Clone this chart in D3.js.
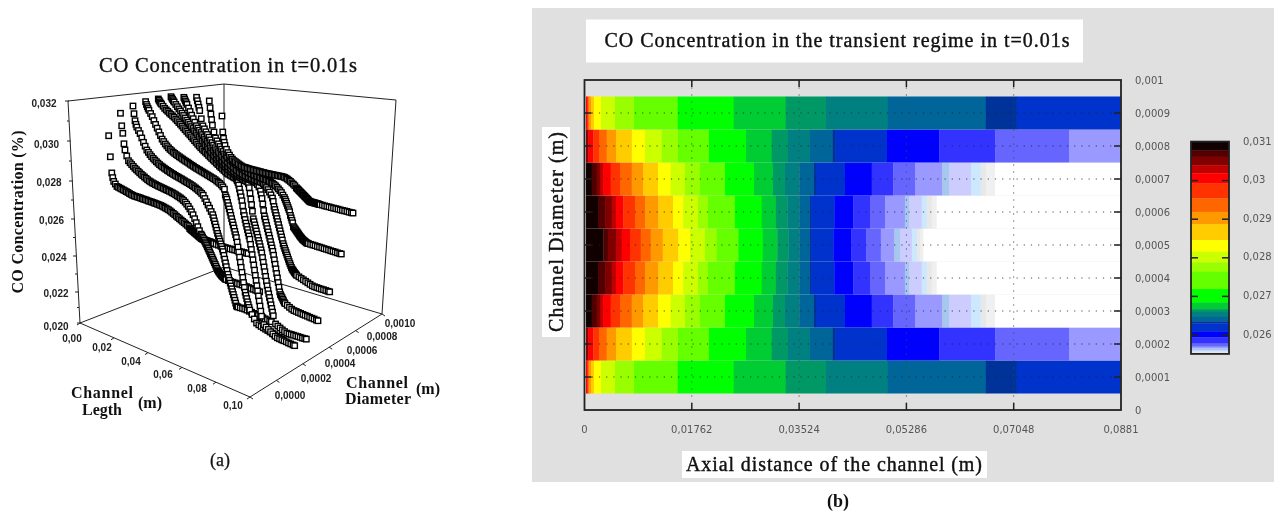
<!DOCTYPE html>
<html><head><meta charset="utf-8">
<script src="https://cdn.jsdelivr.net/npm/d3@7/dist/d3.min.js"></script>
<style>html,body{margin:0;padding:0;background:#fff;overflow:hidden}svg{display:block;filter:blur(.35px)}</style>
</head><body><div id="c"></div>
<script>
// ---------- panel (a): axial positions (m) shared by all curves
const axialLengths = [0,.0005,.001,.0015,.002,
 .003,.004,.005,.006,.007,.008,.009,.010,.011,.012,.013,.014,.015,.016,.017,.018,.019,.020,.021,.022,.023,.024,.025,.026,.027,.028,.029,.030,.031,.032,.033,.034,.035,.036,.037,.038,.039,.040,.041,.042,.043,.044,
 .045,.046,.047,.048,.049,.050,
 .0505,.051,.0515,.052,.0525,.053,.0535,.054,.0545,.055,.0555,.056,.0565,.057,.0575,.058,.0585,.059,.0595,.060,.0605,.061,.0615,.062,.0625,.063,.0635,.064,.0645,.065,.0655,.066,
 .0675,.069,.0705,.072,.0735,.075,.0765,.078,.0795,.081,.0825,.084,.0855,.087,.0881];
const curveDiameters = [.0001,.0002,.0003,.0004,.0005,.0006,.0007,.0008,.0009,.0010];
// CO concentration in units of 1e-5 (%), one list per diameter
const co0001 = [2978,2860,2770,2745,2725, 2713,2702,2700,2698,2696,2694,2692,2690,2688,2685,2683,2681,2680,2680,2680,2680,2680,2679,2679,2679,2679,2678,2678,2678,2678,2677,2677,2676,2676,2675,2674,2672,2670,2668,2666,2663,2659,2655,2651,2646,2642,2638, 2634,2630,2626,2622,2618,2614,2606,2604,2602,2600,2598,2596,2594,2592,2590,2588,2586,2584,2582,2580,2578,2576,2575,2575,2575,2575,2574,2574,2574,2574,2574,2574,2574,2574,2573,2573,2573,2573,2573,2573,2573,2573,2573,2574,2575,2576,2577,2578,2579,2580,2581,2582,2583];
const co0002 = [3096,3025,2983,2924,2890, 2858,2833,2824,2816,2808,2800,2794,2788,2782,2776,2771,2766,2761,2756,2752,2749,2746,2744,2742,2740,2738,2737,2735,2734,2732,2731,2729,2728,2726,2724,2722,2719,2716,2713,2710,2706,2701,2695,2687,2678,2667,2655, 2642,2624,2606,2588,2570,2555,2549,2542,2536,2529,2522,2515,2509,2501,2494,2486,2479,2471,2464,2456,2448,2441,2433,2426,2418,2410,2403,2398,2394,2390,2386,2383,2380,2378,2376,2374,2372,2371,2370,2370,2371,2372,2373,2374,2375,2376,2376,2376,2376,2376,2376,2376,2376];
const co0003 = [3129,3085,3045,3025,3010, 2992,2976,2953,2930,2910,2890,2879,2868,2859,2851,2844,2837,2831,2825,2820,2816,2812,2808,2804,2801,2797,2794,2791,2788,2785,2783,2780,2778,2775,2772,2769,2767,2764,2761,2758,2754,2750,2746,2741,2736,2730,2723, 2708,2693,2678,2664,2649,2635,2620,2605,2590,2575,2560,2545,2532,2520,2508,2496,2484,2472,2460,2442,2424,2406,2388,2370,2352,2337,2324,2311,2298,2285,2272,2259,2246,2233,2220,2207,2205,2205,2206,2208,2209,2209,2208,2208,2207,2207,2206,2205,2205,2204,2204,2203,2203];
const co0004 = [3146,3130,3118,3108,3098, 3081,3064,3043,3022,3002,2982,2963,2944,2932,2920,2911,2902,2895,2889,2883,2878,2873,2869,2865,2861,2857,2853,2849,2846,2842,2838,2834,2831,2827,2824,2821,2818,2815,2812,2809,2806,2803,2800,2797,2794,2791,2788, 2783,2779,2774,2768,2760,2750,2720,2710,2700,2684,2668,2652,2636,2620,2604,2588,2573,2558,2542,2526,2512,2490,2465,2440,2415,2390,2365,2340,2315,2290,2266,2243,2228,2213,2198,2185,2172,2160,2142,2124,2108,2104,2101,2099,2097,2095,2093,2091,2089,2087,2085,2083,2081];
const co0005 = [3153,3145,3137,3130,3125, 3114,3103,3095,3088,3080,3073,3066,3060,3051,3043,3034,3026,3017,3008,2999,2991,2982,2974,2965,2956,2947,2939,2930,2922,2914,2907,2900,2894,2887,2880,2873,2867,2860,2854,2847,2841,2834,2828,2822,2816,2810,2804, 2801,2798,2795,2792,2789,2786,2778,2769,2756,2736,2716,2696,2676,2650,2620,2600,2580,2562,2546,2530,2514,2498,2482,2456,2430,2404,2378,2352,2326,2300,2274,2248,2222,2197,2172,2147,2122,2097,2058,2050,2043,2036,2030,2023,2020,2020,2020,2020,2020,2019,2019,2019,2019];
const co0006 = [3158,3150,3142,3135,3128, 3115,3103,3091,3080,3068,3056,3043,3031,3020,3009,2998,2988,2977,2967,2956,2946,2935,2925,2914,2904,2895,2886,2877,2868,2859,2851,2843,2836,2829,2822,2815,2809,2803,2797,2792,2787,2783,2779,2775,2772,2769,2766, 2762,2759,2756,2753,2749,2741,2720,2690,2660,2630,2595,2555,2540,2524,2508,2493,2477,2461,2445,2430,2414,2398,2383,2359,2335,2311,2287,2263,2239,2215,2193,2175,2157,2139,2121,2103,2085,2067,2028,2022,2017,2012,2008,2005,2006,2008,2009,2010,2012,2013,2014,2016,2017];
const co0007 = [3145,3135,3124,3114,3104, 3083,3063,3042,3022,3002,2982,2970,2958,2946,2935,2923,2912,2900,2889,2877,2866,2855,2845,2835,2825,2816,2807,2800,2793,2786,2780,2775,2770,2764,2758,2753,2749,2746,2743,2740,2738,2736,2734,2732,2731,2729,2728, 2726,2723,2720,2712,2700,2680,2660,2640,2610,2575,2545,2530,2513,2496,2480,2463,2446,2430,2413,2396,2380,2363,2343,2319,2296,2272,2248,2225,2201,2177,2153,2140,2133,2126,2119,2112,2105,2100,2095,2089,2084,2081,2081,2080,2080,2079,2079,2079,2078,2078,2078,2077,2077];
const co0008 = [3136,3115,3095,3075,3055, 3005,2962,2945,2928,2913,2898,2883,2868,2854,2840,2830,2820,2811,2802,2793,2785,2777,2770,2763,2757,2751,2745,2739,2733,2727,2721,2718,2715,2712,2710,2708,2706,2704,2702,2700,2699,2697,2696,2694,2693,2691,2688, 2680,2670,2660,2648,2634,2618,2600,2572,2556,2540,2524,2508,2492,2476,2459,2443,2427,2411,2395,2376,2364,2352,2341,2330,2319,2308,2297,2286,2276,2266,2257,2249,2245,2240,2235,2231,2227,2223,2219,2215,2211,2207,2203,2199,2195,2194,2194,2194,2194,2195,2195,2195,2195];
const co0009 = [3103,3060,3020,2985,2950, 2908,2872,2855,2838,2823,2808,2795,2782,2773,2764,2758,2752,2746,2741,2736,2731,2726,2722,2717,2713,2708,2703,2700,2698,2695,2693,2691,2689,2687,2686,2684,2682,2680,2679,2677,2676,2674,2672,2669,2665,2660,2655, 2648,2640,2632,2623,2610,2598,2588,2578,2567,2556,2545,2534,2523,2503,2490,2477,2464,2443,2438,2433,2428,2423,2418,2413,2408,2403,2398,2394,2390,2386,2383,2380,2378,2376,2373,2371,2371,2371,2370,2370,2370,2369,2369,2369,2368,2368,2368,2367,2367,2367,2366,2366,2366];
const co0010 = [2994,2890,2850,2825,2805, 2782,2762,2748,2735,2726,2718,2713,2708,2703,2698,2694,2690,2689,2688,2687,2686,2685,2685,2684,2684,2683,2683,2682,2682,2681,2681,2680,2680,2680,2680,2680,2680,2680,2680,2680,2680,2680,2681,2680,2679,2676,2672, 2667,2662,2655,2649,2642,2632,2628,2625,2621,2618,2614,2611,2607,2604,2600,2597,2593,2590,2586,2583,2579,2576,2572,2569,2568,2568,2568,2568,2567,2567,2567,2567,2566,2566,2566,2566,2565,2565,2565,2564,2564,2564,2563,2563,2563,2563,2562,2562,2562,2562,2561,2561,2561];
const curves = [co0001,co0002,co0003,co0004,co0005,co0006,co0007,co0008,co0009,co0010];
const zTicks = [.032,.030,.028,.026,.024,.022,.020];
const zTickLabels = ['0,032','0,030','0,028','0,026','0,024','0,022','0,020'];
const lengthTicks = [0,.02,.04,.06,.08,.10];
const lengthTickLabels = ['0,00','0,02','0,04','0,06','0,08','0,10'];
const diamTicks = [0,.0002,.0004,.0006,.0008,.0010];
const diamTickLabels = ['0,0000','0,0002','0,0004','0,0006','0,0008','0,0010'];

// ---------- panel (b): colour levels, hot to cold
const levelColors = ['#100000','#500000','#800000','#c00000','#ff0000','#ff3300','#ff6600','#ff9900','#ffcc00','#ffff00','#ccff00','#99ff00','#66ff00','#00ff00','#00cc33','#009966','#008080','#006699','#003399','#0033cc','#0000ff','#3333ff','#6666ff','#9999ff','#a6c8ee','#ccccff','#cce8ff','#e8e8e8','#f0f0f0','#ffffff'];
// upper limit of each level's concentration (legend), one more than the colours
const levelLimits = [.03101,.03079,.03062,.0304,.03019,.02993,.02954,.02919,.02887,.02846,.02816,.02788,.02764,.02719,.02684,.02667,.02660,.02647,.02635,.0263,.02609,.02594,.02578,.0257,.02566,.02561,.02558,.02555,.02553,.02552,.02551];
// distance (mm) where each row's colour level ends; first entry of each list = first level in that row
const row0001Edges = [4, .49,.62,.74,1.07,1.56,2.71,5.01,8.13,15.3,24.5,33.04,39.65,49.8,65.9,70.97,88];
const row0002Edges = [2, .54,.66,1.44,2.38,3.64,5.17,7.77,9.93,12.67,15.35,20.44,26.52,30.74,33.41,37.03,40.75,41.24,49.67,58.25,67.43,79.56,88];
const row0003Edges = [0, 1.18,2.0,2.54,3.04,4.30,5.83,7.75,9.61,12.07,14.15,16.5,18.96,23.07,27.83,30.95,32.92,35.27,37.68,38.01,42.77,47.16,50.7,54.27,58.75,59.9,63.46,65.05,65.92,67.4,88];
const row0004Edges = [0, 2.22,3.37,4.47,5.17,6.37,8.29,9.93,12.12,14.53,16.21,18.64,20.28,24.7,29.1,31.43,33.3,35.27,37.03,37.2,41.02,44.13,46.88,49.34,52.62,53.33,55.37,56.19,57.01,57.83,88];
const row0005Edges = [0, 3.09,3.86,5.17,6.11,7.47,9.23,10.87,12.84,15.4,17.32,19.79,21.71,25.26,29.27,31.66,33.46,35.27,37.03,37.2,40.87,43.78,46.24,48.66,50.87,51.84,53.76,54.58,55.12,55.63,88];
const rowDiameters = [.0001,.0002,.0003,.0004,.0005,.0006,.0007,.0008,.0009];
const rowProfiles = [row0001Edges,row0002Edges,row0003Edges,row0004Edges,row0005Edges,row0004Edges,row0003Edges,row0002Edges,row0001Edges];
const xTicks = [0,.01762,.03524,.05286,.07048,.0881];
const xTickLabels = ['0','0,01762','0,03524','0,05286','0,07048','0,0881'];
const yTicks = [0,.0001,.0002,.0003,.0004,.0005,.0006,.0007,.0008,.0009,.001];
const yTickLabels = ['0','0,0001','0,0002','0,0003','0,0004','0,0005','0,0006','0,0007','0,0008','0,0009','0,001'];
const legendTicks = [.031,.03,.029,.028,.027,.026];
const legendTickLabels = ['0,031','0,03','0,029','0,028','0,027','0,026'];

const W=1274,H=511, SERIF="'Liberation Serif',serif", SANS="'DejaVu Sans',sans-serif";
const svg=d3.select('#c').append('svg').attr('width',W).attr('height',H).style('background','#fff');
function txt(g,x,y,s,o={}){const t=g.append('text').attr('x',x).attr('y',y).text(s)
  .attr('text-anchor',o.anchor||'middle').attr('dominant-baseline','central')
  .attr('font-family',o.family||SERIF).attr('font-size',o.size||15).attr('fill',o.fill||'#111');
  if(o.weight)t.attr('font-weight',o.weight);
  if(o.stroke)t.attr('stroke',o.fill||'#111').attr('stroke-width',o.stroke);
  if(o.len)t.attr('textLength',o.len).attr('lengthAdjust','spacing');
  if(o.rotate)t.attr('transform',`rotate(${o.rotate} ${x} ${y})`);
  return t;}

// ========== panel (a)
const A=svg.append('g');
txt(A,228,65,'CO Concentration in t=0.01s',{size:20.5,len:258,stroke:.35});
txt(A,220,460,'(a)',{size:18,stroke:.25});
const frame={A:[80,323],B:[250,397],C:[382,314],D:[224,267],At:[68,101],Dt:[224,84],Ct:[396,100]};
const frameEdges=[['A','B'],['B','C'],['A','D'],['D','C'],['A','At'],['At','Dt'],['Dt','Ct'],['Ct','C'],['D','Dt']];
A.selectAll('line.fr').data(frameEdges).join('line').attr('class','fr')
 .attr('x1',e=>frame[e[0]][0]).attr('y1',e=>frame[e[0]][1]).attr('x2',e=>frame[e[1]][0]).attr('y2',e=>frame[e[1]][1])
 .attr('stroke','#222').attr('stroke-width',1);
// z axis
const zY=d3.scaleLinear().domain(zTicks).range([101,141,181,219,256,292,323]);
const zX=d3.scaleLinear().domain([.032,.020]).range([68,80]);
const zLabelX=d3.scaleLinear().domain(zTicks).range([44,46.5,49,51.6,54,56,56]);
const zLabelY=d3.scaleLinear().domain(zTicks).range([103,144,182.7,220,257,293,326]);
zTicks.forEach((z,i)=>{
  A.append('line').attr('x1',zX(z)-3).attr('x2',zX(z)+1).attr('y1',zY(z)).attr('y2',zY(z)).attr('stroke','#222');
  txt(A,zLabelX(z),zLabelY(z),zTickLabels[i],{family:"'Liberation Sans',sans-serif",size:10,weight:'bold',fill:'#222'});
  if(i<zTicks.length-1){const m=(z+zTicks[i+1])/2;
    A.append('line').attr('x1',zX(m)-2).attr('x2',zX(m)).attr('y1',zY(m)).attr('y2',zY(m)).attr('stroke','#222');}
});
// floor axes
const lenU=d3.scaleLinear().domain([0,.1]).range([0,1]), diaU=d3.scaleLinear().domain([0,.001]).range([0,1]);
const lenLX=d3.scaleLinear().domain(lengthTicks).range([72,102,131,163,197,233]);
const lenLY=d3.scaleLinear().domain(lengthTicks).range([338,347,361,374,388,405]);
const diaLX=d3.scaleLinear().domain(diamTicks).range([290,316,340,362,382,400]);
const diaLY=d3.scaleLinear().domain(diamTicks).range([395,378,363,350,336,323]);
lengthTicks.forEach((l,i)=>{const u=lenU(l),x=80+170*u,y=323+74*u;
  A.append('line').attr('x1',x).attr('y1',y).attr('x2',x-3).attr('y2',y+2).attr('stroke','#222');
  txt(A,lenLX(l),lenLY(l),lengthTickLabels[i],{family:"'Liberation Sans',sans-serif",size:10,weight:'bold',fill:'#222'});});
diamTicks.forEach((d,i)=>{const u=diaU(d),x=250+132*u,y=397-83*u;
  A.append('line').attr('x1',x).attr('y1',y).attr('x2',x+3).attr('y2',y+2).attr('stroke','#222');
  txt(A,diaLX(d),diaLY(d),diamTickLabels[i],{family:"'Liberation Sans',sans-serif",size:10,weight:'bold',fill:'#222'});});
// projection of (length, diameter, concentration)
const pS=d3.scaleLinear().domain([0,.0881]).range([0,1]);
const sS=d3.scaleLinear().domain([.0001,.001]).range([0,1]);
const fS=d3.scaleLinear().domain([.02,.032]).range([0,1]);
const bil=(a,b,c,d,p,s)=>{const i=d3.interpolateNumber;return i(i(a,b)(s),i(c,d)(s))(p);};
function project(l,d,co){const p=pS(l),s=sS(d),f=fS(co);
  return [bil(116,222,248,353,p,s)+bil(-9,0,0,0,p,s)*f, bil(308.5,268,377.4,314.5,p,s)-bil(212,183.5,255,217,p,s)*f];}
curves.forEach((vals,k)=>{
  const pts=axialLengths.map((l,i)=>project(l,curveDiameters[k],vals[i]*1e-5));
  A.append('g').selectAll('rect').data(pts).join('rect')
   .attr('x',d=>d[0]-2.7).attr('y',d=>d[1]-2.7).attr('width',5.4).attr('height',5.4)
   .attr('fill','#fff').attr('stroke','#000').attr('stroke-width',1.4);
});
txt(A,17,212,'CO Concentration (%)',{size:16,weight:'bold',rotate:-90,len:163});
txt(A,102,392,'Channel',{size:16,weight:'bold',len:62});
txt(A,102,409,'Legth',{size:16,weight:'bold',len:40});
txt(A,150,402,'(m)',{size:16,weight:'bold'});
txt(A,377,382,'Channel',{size:16,weight:'bold',len:62});
txt(A,378,398,'Diameter',{size:16,weight:'bold',len:66});
txt(A,428,388,'(m)',{size:16,weight:'bold'});

// ========== panel (b)
const B=svg.append('g');
B.append('rect').attr('x',532).attr('y',8).attr('width',W-532).attr('height',474).attr('fill','#e0e0e0');
B.append('rect').attr('x',586).attr('y',19.5).attr('width',497).attr('height',43).attr('fill','#fff');
txt(B,837,40,'CO Concentration in the transient regime in t=0.01s',{size:20,len:465,stroke:.4});
B.append('rect').attr('x',682).attr('y',451).attr('width',305).attr('height',27).attr('fill','#fff');
txt(B,834,464,'Axial distance of the channel (m)',{size:20,len:296,stroke:.4});
B.append('rect').attr('x',542).attr('y',127).attr('width',28).attr('height',210).attr('fill','#fff');
txt(B,556,232,'Channel Diameter (m)',{size:20,rotate:-90,len:200,stroke:.4});
txt(B,838,501,'(b)',{size:18,weight:'bold'});
const x=d3.scaleLinear().domain([0,.0881]).range([584.5,1121]);
const y=d3.scaleLinear().domain([0,.001]).range([410,80]);
rowDiameters.forEach((d,r)=>{
  const prof=rowProfiles[r], first=prof[0], edges=prof.slice(1);
  B.append('g').selectAll('rect').data(edges).join('rect')
   .attr('x',(e,i)=>x((i?edges[i-1]:.25)/1000)).attr('width',(e,i)=>x(e/1000)-x((i?edges[i-1]:.25)/1000)+.3)
   .attr('y',y(d+.00005)).attr('height',y(d-.00005)-y(d+.00005))
   .attr('fill',(e,i)=>levelColors[first+i]);
});
// grid
yTicks.slice(1,-1).forEach(t=>B.append('line').attr('x1',x(0)).attr('x2',x(.0881)).attr('y1',y(t)).attr('y2',y(t))
  .attr('stroke','#222').attr('stroke-opacity',.8).attr('stroke-width',1.2).attr('stroke-dasharray','1.2,6'));
xTicks.slice(1,-1).forEach(t=>B.append('line').attr('y1',y(.001)).attr('y2',y(0)).attr('x1',x(t)).attr('x2',x(t))
  .attr('stroke','#444').attr('stroke-opacity',.55).attr('stroke-width',1).attr('stroke-dasharray','2,5'));
// ticks and frame
yTicks.slice(1,-1).forEach(t=>{
  B.append('line').attr('x1',x(0)).attr('x2',x(0)+7).attr('y1',y(t)).attr('y2',y(t)).attr('stroke','#222').attr('stroke-width',1.5);
  B.append('line').attr('x1',x(.0881)-7).attr('x2',x(.0881)).attr('y1',y(t)).attr('y2',y(t)).attr('stroke','#222').attr('stroke-width',1.5);});
xTicks.slice(1,-1).forEach(t=>{
  B.append('line').attr('y1',y(0)).attr('y2',y(0)-7).attr('x1',x(t)).attr('x2',x(t)).attr('stroke','#222').attr('stroke-width',1.5);
  B.append('line').attr('y1',y(.001)).attr('y2',y(.001)+7).attr('x1',x(t)).attr('x2',x(t)).attr('stroke','#222').attr('stroke-width',1.5);});
B.append('rect').attr('x',x(0)).attr('y',y(.001)).attr('width',x(.0881)-x(0)).attr('height',y(0)-y(.001))
 .attr('fill','none').attr('stroke','#222').attr('stroke-width',1.8);
xTicks.forEach((t,i)=>txt(B,x(t),429,xTickLabels[i],{family:SANS,size:10,fill:'#555'}));
yTicks.forEach((t,i)=>txt(B,1135,y(t),yTickLabels[i],{family:SANS,size:10,fill:'#555',anchor:'start'}));
// legend
const ly=d3.scaleLinear().domain([.026,.031]).range([335,142]);
B.append('g').selectAll('rect').data(levelColors).join('rect')
 .attr('x',1191).attr('width',38).attr('y',(c,i)=>ly(levelLimits[i])).attr('height',(c,i)=>ly(levelLimits[i+1])-ly(levelLimits[i])+.3)
 .attr('fill',c=>c);
legendTicks.forEach((t,i)=>{
  if(i>0){B.append('line').attr('x1',1191).attr('x2',1198).attr('y1',ly(t)).attr('y2',ly(t)).attr('stroke','#222').attr('stroke-width',1.5);
  B.append('line').attr('x1',1222).attr('x2',1229).attr('y1',ly(t)).attr('y2',ly(t)).attr('stroke','#222').attr('stroke-width',1.5);}
  txt(B,1243,ly(t)-1,legendTickLabels[i],{family:SANS,size:10,fill:'#555',anchor:'start'});});
B.append('rect').attr('x',1191).attr('y',ly(levelLimits[0])).attr('width',38).attr('height',ly(levelLimits[levelLimits.length-1])-ly(levelLimits[0]))
 .attr('fill','none').attr('stroke','#222').attr('stroke-width',1.8);
</script></body></html>
